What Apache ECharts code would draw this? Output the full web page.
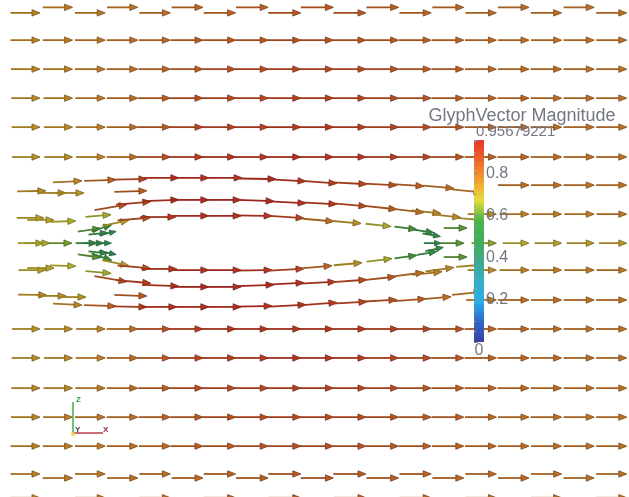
<!DOCTYPE html>
<html>
<head>
<meta charset="utf-8">
<script src="https://cdn.jsdelivr.net/npm/echarts@6/dist/echarts.min.js"></script>
<style>
  html, body { margin: 0; padding: 0; background: #ffffff; }
  #chart { width: 629px; height: 497px; }
</style>
</head>
<body>
<div id="chart"></div>
<script>
// Flow past an elliptical body: arrow glyphs coloured by |GlyphVector|.
// Positions are in mesh units (column / row of the sampling lattice),
// far-field rows are stored as speed lists, near-body samples as [x, y, direction(deg), speed].

const BAR_MIN = 0;
const BAR_MAX = 0.95679221;
const barTicks = [0.2, 0.4, 0.6, 0.8];
const barTitle = 'GlyphVector Magnitude';

// far-field lattice rows (row coordinate) and their per-column speeds
const farRowY = [0, 0.97, 1.97, 2.97, 3.97, 5.0, 10.93, 11.93, 12.97, 13.97, 14.97, 16.0, 17.0];
const speedRow0  = [0.76,0.77,0.78,0.79,0.80,0.81,0.82,0.83,0.84,0.84,0.84,0.83,0.82,0.81,0.80,0.80,0.79,0.79,0.79];
const speedRow1  = [0.76,0.77,0.78,0.80,0.81,0.83,0.84,0.85,0.86,0.86,0.85,0.84,0.83,0.82,0.81,0.80,0.79,0.79,0.79];
const speedRow2  = [0.75,0.76,0.78,0.80,0.82,0.84,0.86,0.87,0.88,0.88,0.87,0.86,0.84,0.83,0.81,0.80,0.80,0.79,0.79];
const speedRow3  = [0.74,0.75,0.77,0.80,0.83,0.86,0.88,0.89,0.90,0.90,0.89,0.87,0.85,0.83,0.82,0.81,0.80,0.79,0.79];
const speedRow4  = [0.73,0.74,0.76,0.80,0.84,0.88,0.90,0.91,0.92,0.92,0.91,0.89,0.87,0.84,0.82,0.81,0.80,0.79,0.79];
const speedRow5  = [0.72,0.73,0.75,0.80,0.86,0.90,0.92,0.93,0.93,0.93,0.92,0.90,0.88,0.85,0.82,0.81,0.80,0.79,0.79];
const speedRow11 = [0.72,0.73,0.75,0.80,0.86,0.90,0.92,0.93,0.93,0.93,0.92,0.90,0.88,0.85,0.82,0.81,0.80,0.79,0.79];
const speedRow12 = [0.73,0.74,0.76,0.80,0.84,0.88,0.90,0.91,0.92,0.92,0.91,0.89,0.87,0.84,0.82,0.81,0.80,0.79,0.79];
const speedRow13 = [0.74,0.75,0.77,0.80,0.83,0.86,0.88,0.89,0.90,0.90,0.89,0.87,0.85,0.83,0.82,0.81,0.80,0.79,0.79];
const speedRow14 = [0.75,0.76,0.78,0.80,0.82,0.84,0.86,0.87,0.88,0.88,0.87,0.86,0.84,0.83,0.81,0.80,0.80,0.79,0.79];
const speedRow15 = [0.76,0.77,0.78,0.80,0.81,0.83,0.84,0.85,0.86,0.86,0.85,0.84,0.83,0.82,0.81,0.80,0.79,0.79,0.79];
const speedRow16 = [0.76,0.77,0.78,0.79,0.80,0.81,0.82,0.83,0.84,0.84,0.84,0.83,0.82,0.81,0.80,0.80,0.79,0.79,0.79];
const speedRow17 = [0.76,0.77,0.78,0.79,0.80,0.81,0.82,0.83,0.83,0.83,0.83,0.82,0.81,0.80,0.80,0.79,0.79,0.79,0.79];
const farSpeeds = [speedRow0, speedRow1, speedRow2, speedRow3, speedRow4, speedRow5,
                   speedRow11, speedRow12, speedRow13, speedRow14, speedRow15, speedRow16, speedRow17];

// staggered sample heights on the outer rows of the mesh
const shiftRow0  = [0.03,-0.16,0.03,-0.16,0.03,-0.16,0.03,-0.16,0.03,-0.16,0.03,-0.16,0.03,-0.16,0.03,-0.16,0.03,-0.16,0.03];
const shiftRow16 = [-0.07,0.07,-0.07,0.07,-0.07,0.07,-0.07,0.07,-0.07,0.07,-0.07,0.07,-0.07,0.07,-0.07,0.07,-0.07,0.07,-0.07];
const shiftRow17 = [-0.25,0,-0.25,0,-0.25,0,-0.25,0,-0.25,0,-0.25,0,-0.25,0,-0.25,0,-0.25,0,-0.25];
const farShifts = { 0: shiftRow0, 11: shiftRow16, 12: shiftRow17 };

// wake-side lattice rows (columns 14..18)
const wakeRows = [
  [5.97, [15, 16, 17, 18], [0.80, 0.79, 0.79, 0.79]],
  [6.97, [14, 15, 16, 17, 18], [0.74, 0.76, 0.77, 0.77, 0.78]],
  [7.97, [14, 15, 16, 17, 18], [0.64, 0.68, 0.70, 0.71, 0.72]],
  [8.90, [14, 15, 16, 17, 18], [0.74, 0.76, 0.77, 0.77, 0.78]],
  [9.93, [14, 15, 16, 17, 18], [0.78, 0.80, 0.79, 0.79, 0.79]]
];

// upstream samples ahead of the body
const upstreamTop = [
  [0.18, 6.17, 1, 0.74], [0.80, 6.24, 0, 0.73], [1.35, 6.24, 0, 0.72], [3.28, 6.17, 2, 0.84],
  [0.12, 7.10, 0, 0.70], [0.43, 7.17, 0, 0.69], [1.10, 7.21, 2, 0.67], [2.18, 7.00, 5, 0.66],
  [1.87, 7.48, 8, 0.60], [2.09, 7.62, 6, 0.50], [2.36, 7.59, 12, 0.45]
];
const centreLine = [
  [0.12, 7.97, 0, 0.67], [0.31, 7.97, 0, 0.66], [0.98, 7.97, 0, 0.62], [1.75, 7.97, 0, 0.55],
  [1.96, 7.97, 0, 0.50], [2.21, 7.97, 0, 0.45], [12.33, 7.97, 0, 0.45], [13.01, 7.97, 0, 0.60]
];
const upstreamBottom = [
  [1.87, 8.45, -8, 0.60], [2.09, 8.31, -6, 0.50], [2.36, 8.34, -12, 0.45],
  [0.18, 8.90, 0, 0.70], [0.43, 8.83, 0, 0.69], [1.10, 8.76, -2, 0.67], [2.18, 9.00, -5, 0.66],
  [0.21, 9.76, -1, 0.74], [0.80, 9.79, 0, 0.73], [1.41, 9.83, 0, 0.72], [3.28, 9.79, -2, 0.84]
];

// streamline samples hugging the upper side of the body (outer to inner)
const upperOuter = [
  [1.29, 5.83, 3, 0.75], [2.33, 5.79, 2, 0.82], [3.28, 5.76, 1, 0.89], [4.26, 5.72, 0, 0.93],
  [5.18, 5.72, 0, 0.94], [6.20, 5.72, 0, 0.94], [7.24, 5.76, -1, 0.94], [8.16, 5.83, -3, 0.93],
  [9.11, 5.90, -4, 0.91], [10.03, 5.93, -3, 0.89], [10.95, 5.97, -3, 0.86], [11.78, 6.00, -4, 0.83],
  [12.70, 6.07, -5, 0.80], [13.56, 6.21, -6, 0.78]
];
const upperMiddle = [
  [2.67, 6.66, 10, 0.85], [3.40, 6.55, 5, 0.90], [4.26, 6.48, 2, 0.93], [5.18, 6.48, 0, 0.95],
  [6.17, 6.48, 0, 0.95], [7.18, 6.52, -2, 0.95], [8.16, 6.59, -3, 0.94], [9.11, 6.62, -3, 0.92],
  [10.03, 6.69, -5, 0.88], [10.95, 6.79, -6, 0.84], [11.78, 6.90, -7, 0.80], [12.30, 6.93, -6, 0.76],
  [12.91, 7.07, -6, 0.74], [13.62, 7.17, -5, 0.72]
];
const upperInner = [
  [2.21, 7.38, 18, 0.55], [2.73, 7.21, 12, 0.70], [3.40, 7.10, 5, 0.86], [4.17, 7.07, 0, 0.92],
  [5.18, 7.03, 0, 0.94], [6.17, 7.03, 0, 0.94], [7.12, 7.03, -1, 0.93], [8.10, 7.10, -4, 0.89],
  [9.02, 7.21, -5, 0.80], [9.85, 7.28, -5, 0.73], [10.77, 7.38, -6, 0.66], [11.56, 7.48, -7, 0.58],
  [12.09, 7.59, -9, 0.52], [12.30, 7.72, -10, 0.47], [13.10, 7.45, 0, 0.60]
];

// streamline samples along the lower side of the body (inner to outer)
const lowerInner = [
  [2.21, 8.52, -18, 0.55], [2.73, 8.72, -12, 0.70], [3.40, 8.83, -5, 0.86], [4.20, 8.86, 0, 0.92],
  [5.18, 8.90, 0, 0.94], [6.17, 8.90, 0, 0.94], [7.12, 8.90, 1, 0.93], [8.10, 8.86, 3, 0.89],
  [8.96, 8.76, 5, 0.81], [9.88, 8.66, 5, 0.73], [10.80, 8.52, 7, 0.66], [11.56, 8.41, 8, 0.58],
  [12.18, 8.28, 10, 0.52], [12.39, 8.14, 12, 0.47], [13.10, 8.45, 0, 0.60]
];
const lowerMiddle = [
  [2.67, 9.28, -10, 0.85], [3.40, 9.34, -5, 0.90], [4.26, 9.45, -2, 0.93], [5.18, 9.48, 0, 0.95],
  [6.17, 9.48, 0, 0.95], [7.18, 9.41, 2, 0.95], [8.10, 9.34, 3, 0.94], [9.08, 9.31, 3, 0.92],
  [10.03, 9.24, 4, 0.88], [10.92, 9.14, 6, 0.84], [11.78, 9.00, 7, 0.80], [12.33, 8.97, 6, 0.76],
  [12.70, 8.83, 8, 0.74], [13.62, 8.72, 5, 0.72]
];
const lowerOuter = [
  [1.29, 10.10, -3, 0.75], [2.33, 10.14, -2, 0.82], [3.28, 10.17, -1, 0.89], [4.20, 10.17, 0, 0.93],
  [5.18, 10.17, 0, 0.94], [6.17, 10.17, 0, 0.94], [7.12, 10.14, 1, 0.94], [8.16, 10.10, 3, 0.93],
  [9.11, 10.03, 4, 0.91], [10.03, 10.00, 3, 0.89], [10.95, 9.93, 3, 0.86], [11.84, 9.90, 4, 0.83],
  [12.61, 9.83, 5, 0.80], [13.56, 9.66, 6, 0.78]
];

// ---------- build the glyph table: [x, y, u, v, |V|] ----------
const glyphs = [];
function addSample(x, y, dirDeg, speed) {
  const a = dirDeg * Math.PI / 180;
  glyphs.push([x, y, speed * Math.cos(a), speed * Math.sin(a), speed]);
}
farRowY.forEach((y, r) => {
  const shift = farShifts[r];
  farSpeeds[r].forEach((s, c) => addSample(c, y + (shift ? shift[c] : 0), 0, s));
});
wakeRows.forEach(([y, cols, speeds]) => cols.forEach((c, i) => addSample(c, y, 0, speeds[i])));
[upstreamTop, centreLine, upstreamBottom, upperOuter, upperMiddle, upperInner,
 lowerInner, lowerMiddle, lowerOuter].forEach(list => list.forEach(g => addSample(g[0], g[1], g[2], g[3])));

// ---------- styling ----------
const COLOR_RAMP = ['#3b3f9e', '#3466c4', '#29aee8', '#38aec4', '#3fa98a', '#40ae58',
                    '#4cb44a', '#e2de3a', '#f2a030', '#ec662c', '#e6352b'];
const FONT = '"Liberation Sans", Arial, sans-serif';
const LABEL_COLOR = '#737784';
const GLYPH_SCALE = 1.19;

function shade(color, k) {
  const c = echarts.color.parse(color);
  return 'rgb(' + Math.round(c[0] * k) + ',' + Math.round(c[1] * k) + ',' + Math.round(c[2] * k) + ')';
}

function renderGlyph(params, api) {
  const p = api.coord([api.value(0), api.value(1)]);
  const u = api.value(2), v = api.value(3), m = api.value(4);
  const unit = api.size([1, 0])[0];
  const len = m * unit * GLYPH_SCALE;
  const a = Math.atan2(v, u);
  const dx = Math.cos(a), dy = -Math.sin(a);
  const hl = Math.min(8, len * 0.38), hw = hl * 0.4;
  const tip = [p[0] + dx * hl / 2, p[1] + dy * hl / 2];
  const base = [p[0] - dx * hl / 2, p[1] - dy * hl / 2];
  const tail = [tip[0] - dx * len, tip[1] - dy * len];
  const col = api.visual('color');
  return {
    type: 'group',
    children: [
      { type: 'line', shape: { x1: tail[0], y1: tail[1], x2: base[0], y2: base[1] },
        style: { stroke: shade(col, 0.68), lineWidth: 1.8 } },
      { type: 'polygon',
        shape: { points: [tip, [base[0] - dy * hw, base[1] + dx * hw], [base[0] + dy * hw, base[1] - dx * hw]] },
        style: { fill: shade(col, 0.78), stroke: shade(col, 0.5), lineWidth: 0.8 } }
    ]
  };
}

function renderBar(params, api) {
  const p0 = api.coord([0, api.value(0)]);
  const p1 = api.coord([1, api.value(1)]);
  const stops = COLOR_RAMP.map((c, i) => ({ offset: i / (COLOR_RAMP.length - 1), color: c }));
  return {
    type: 'rect',
    shape: { x: p0[0], y: p1[1], width: p1[0] - p0[0], height: p0[1] - p1[1] },
    style: { fill: new echarts.graphic.LinearGradient(0, 1, 0, 0, stops) }
  };
}

const chart = echarts.init(document.getElementById('chart'), null, { renderer: 'canvas' });
chart.setOption({
  animation: false,
  backgroundColor: '#ffffff',
  grid: [
    { left: 0, top: 0, width: 629, height: 497 },
    { left: 474, top: 140, width: 10, height: 202 }
  ],
  xAxis: [
    { gridIndex: 0, type: 'value', min: -1.104, max: 18.19, show: false },
    { gridIndex: 1, type: 'value', min: 0, max: 1, show: false }
  ],
  yAxis: [
    { gridIndex: 0, type: 'value', min: -0.414, max: 16.724, inverse: true, show: false },
    { gridIndex: 1, type: 'value', min: BAR_MIN, max: BAR_MAX, interval: 0.2, position: 'right', z: 10,
      axisLine: { show: false },
      splitLine: { show: false },
      axisTick: { show: true, length: 4, lineStyle: { color: '#8a8c98', width: 1 } },
      minorTick: { show: true, splitNumber: 4, length: 2, lineStyle: { color: '#9a9ca8', width: 1 } },
      axisLabel: {
        margin: 2, color: LABEL_COLOR, fontSize: 16, fontFamily: FONT,
        formatter: val => barTicks.some(t => Math.abs(t - val) < 1e-6) ? val.toFixed(1) : ''
      }
    }
  ],
  visualMap: {
    type: 'continuous', show: false, seriesIndex: 0, dimension: 4,
    min: BAR_MIN, max: BAR_MAX, inRange: { color: COLOR_RAMP }
  },
  series: [
    { type: 'custom', xAxisIndex: 0, yAxisIndex: 0, renderItem: renderGlyph, data: glyphs,
      encode: { x: 0, y: 1 }, z: 2, silent: true },
    { type: 'custom', xAxisIndex: 1, yAxisIndex: 1, renderItem: renderBar,
      data: [[BAR_MIN, BAR_MAX]], encode: { y: [0, 1] }, z: 5, silent: true }
  ],
  graphic: [
    { type: 'text', x: 522, y: 116, z: 20,
      style: { text: barTitle, fill: LABEL_COLOR, fontSize: 18, fontFamily: FONT, align: 'center', verticalAlign: 'middle' } },
    { type: 'text', x: 476, y: 132, z: 20,
      style: { text: String(BAR_MAX), fill: LABEL_COLOR, fontSize: 15, fontFamily: FONT, align: 'left', verticalAlign: 'middle' } },
    { type: 'text', x: 479, y: 351, z: 20,
      style: { text: String(BAR_MIN), fill: LABEL_COLOR, fontSize: 16, fontFamily: FONT, align: 'center', verticalAlign: 'middle' } },
    // orientation triad
    { type: 'line', z: 20, shape: { x1: 73, y1: 433, x2: 73, y2: 402 }, style: { stroke: '#3fae4a', lineWidth: 1.5 } },
    { type: 'line', z: 20, shape: { x1: 73, y1: 433, x2: 103, y2: 433 }, style: { stroke: '#c23a4a', lineWidth: 1.5 } },
    { type: 'circle', z: 21, shape: { cx: 73, cy: 434, r: 2 }, style: { fill: '#e8dc40' } },
    { type: 'text', x: 76, y: 400, z: 21,
      style: { text: 'Z', fill: '#3a9a44', fontSize: 8, fontWeight: 'bold', fontFamily: FONT, align: 'left', verticalAlign: 'middle' } },
    { type: 'text', x: 75, y: 430, z: 21,
      style: { text: 'Y', fill: '#444444', fontSize: 8, fontWeight: 'bold', fontFamily: FONT, align: 'left', verticalAlign: 'middle' } },
    { type: 'text', x: 103, y: 430, z: 21,
      style: { text: 'X', fill: '#a02838', fontSize: 8, fontWeight: 'bold', fontFamily: FONT, align: 'left', verticalAlign: 'middle' } }
  ]
});
</script>
</body>
</html>
